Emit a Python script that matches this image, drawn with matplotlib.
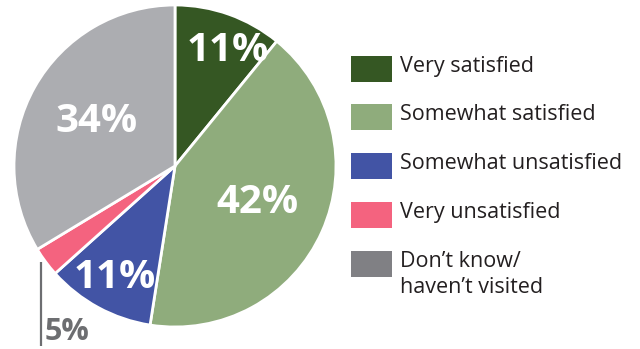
import matplotlib
matplotlib.use("Agg")
import matplotlib.pyplot as plt
import numpy as np
from matplotlib.patches import Rectangle

categories = ["Very satisfied", "Somewhat satisfied", "Somewhat unsatisfied",
              "Very unsatisfied", "Don\u2019t know/\nhaven\u2019t visited"]
values = [11, 42, 11, 3, 34]
pct_labels = ["11%", "42%", "11%", "5%", "34%"]
pie_colors = ["#355723", "#8fac7c", "#4254a5", "#f4637f", "#acadb1"]
legend_colors = ["#355723", "#8fac7c", "#4254a5", "#f4637f", "#808084"]

W, H = 640, 349
fig = plt.figure(figsize=(W / 100, H / 100), dpi=100)
ax = fig.add_axes([0, 0, 1, 1])

cx, cy, R = 175, H - 166, 161
wedges, _ = ax.pie(values, colors=pie_colors, startangle=90, counterclock=False,
                   center=(cx, cy), radius=R,
                   wedgeprops=dict(edgecolor="white", linewidth=2.0))
ax.set_xlim(0, W)
ax.set_ylim(0, H)
ax.set_aspect("equal")
ax.axis("off")

font = "Open Sans"
label_r = [0.79, 0.56, 0.79, None, 0.56]
label_dang = [-5, 0, 0, None, 0]
for w, lab, fr, da in zip(wedges, pct_labels, label_r, label_dang):
    if fr is None:
        continue
    mid = np.deg2rad((w.theta1 + w.theta2) / 2 + da)
    x = cx + fr * R * np.cos(mid)
    y = cy + fr * R * np.sin(mid)
    ax.text(x, y, lab, color="white", fontsize=29, fontweight="bold",
            family=font, ha="center", va="center")

# small slice label with leader line
ax.plot([41, 41], [H - 262, H - 346], color="#6d6e71", lw=1.6, solid_capstyle="butt")
ax.text(45, H - 332, pct_labels[3], color="#6d6e71", fontsize=22, fontweight="bold",
        family=font, ha="left", va="center")

# legend
row_y = [69, 117, 166, 215, 264]
for yc, lab, col in zip(row_y, categories, legend_colors):
    ax.add_patch(Rectangle((351, H - yc - 13), 41, 26, facecolor=col, edgecolor="none"))
    ax.text(400, H - yc + 13, lab, color="#231f20", fontsize=15.5, family=font,
            ha="left", va="top", linespacing=1.3)

fig.savefig("out.png", dpi=100)
